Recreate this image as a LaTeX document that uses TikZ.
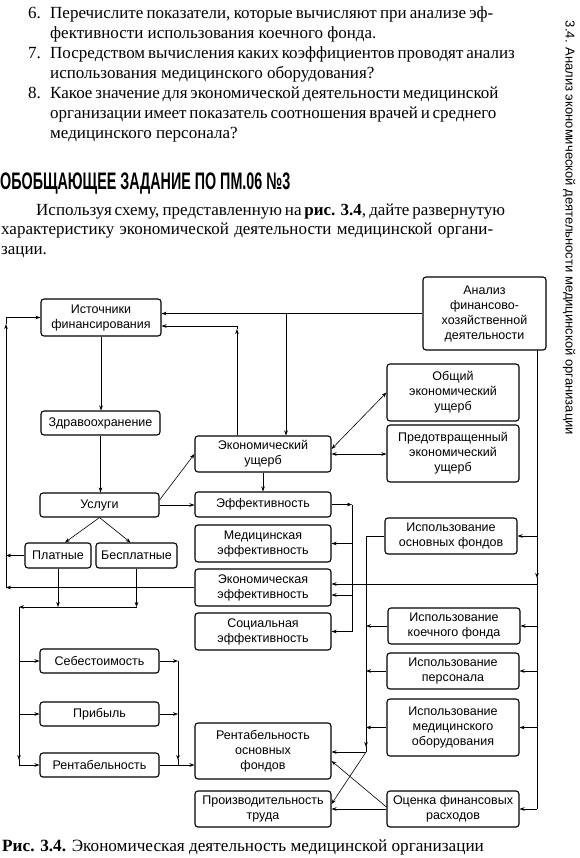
\documentclass[tikz,border=0pt]{standalone}
\usepackage{fontspec}
\usepackage{graphicx}
\setmainfont{Liberation Serif}
\newfontfamily\diagfont{Liberation Sans}
\usetikzlibrary{arrows.meta, calc}

\begin{document}
\begin{tikzpicture}[x=1pt, y=-1pt,
    box/.style={draw, line width=1.1pt, rounded corners=3pt, align=center, inner sep=1pt, font=\diagfont\fontsize{12.5}{15}\selectfont},
    arr/.style={line width=0.6pt, -{Stealth[length=5pt, width=3.6pt]}},
    dbl/.style={line width=0.6pt, {Stealth[length=5pt, width=3.6pt]}-{Stealth[length=5pt, width=3.6pt]}},
    ln/.style={line width=0.6pt},
    txt/.style={anchor=base west, inner sep=0pt, font=\fontsize{17}{20}\selectfont}]

    \useasboundingbox (0,0) rectangle (579,858);

    % Questions
    \node[txt] (n6) at (28,18.5) {6.};
    \node[txt] (q6a) at (50,18.5) {\hbox to 443pt{Перечислите показатели, которые вычисляют при анализе эф-}};
    \node[txt] (q6b) at (50,38.5) {фективности использования коечного фонда.};
    \node[txt] (n7) at (28,58.5) {7.};
    \node[txt] (q7a) at (50,58.5) {\hbox to 443pt{Посредством вычисления каких коэффициентов проводят анализ}};
    \node[txt] (q7b) at (50,78.5) {использования медицинского оборудования?};
    \node[txt] (n8) at (28,98.5) {8.};
    \node[txt] (q8a) at (50,98.5) {\hbox to 443pt{Какое значение для экономической деятельности медицинской}};
    \node[txt] (q8b) at (50,118.5) {\hbox to 443pt{организации имеет показатель соотношения врачей и среднего}};
    \node[txt] (q8c) at (50,138.5) {медицинского персонала?};

    % Heading and task
    \node[anchor=base west, inner sep=0pt] (head) at (0,190) {\resizebox{290pt}{16.7pt}{\diagfont\bfseries ОБОБЩАЮЩЕЕ ЗАДАНИЕ ПО ПМ.06 №3}};
    \node[txt] (t1) at (36,215.5) {\hbox to 457pt{Используя схему, представленную на \textbf{рис. 3.4}, дайте развернутую}};
    \node[txt] (t2) at (1,235) {\hbox to 492pt{характеристику экономической деятельности медицинской органи-}};
    \node[txt] (t3) at (1,254.5) {зации.};

    % Running head
    \node[rotate=-90, inner sep=0pt, font=\diagfont\fontsize{13}{15}\selectfont] (side) at (569,228) {3.4. Анализ экономической деятельности медицинской организации};

    % Left column
    \node[box, minimum width=120pt, minimum height=37pt] (ist) at (101,317.5) {Источники\\финансирования};
    \node[box, minimum width=119pt, minimum height=24pt] (zdr) at (100.5,423) {Здравоохранение};
    \node[box, minimum width=119pt, minimum height=24pt] (usl) at (99.5,505) {Услуги};
    \node[box, minimum width=66pt, minimum height=25pt] (plat) at (58,555.5) {Платные};
    \node[box, minimum width=81pt, minimum height=25pt] (bespl) at (136.5,555.5) {Бесплатные};
    \node[box, minimum width=119pt, minimum height=24pt] (seb) at (99.5,661) {Себестоимость};
    \node[box, minimum width=119pt, minimum height=24pt] (prib) at (99.5,714) {Прибыль};
    \node[box, minimum width=119pt, minimum height=24pt] (rent) at (99.5,765) {Рентабельность};

    % Middle column
    \node[box, minimum width=136pt, minimum height=36pt] (ekush) at (263,454) {Экономический\\ущерб};
    \node[box, minimum width=136pt, minimum height=25pt] (eff) at (263,504.5) {Эффективность};
    \node[box, minimum width=136pt, minimum height=37pt] (medeff) at (263,543.5) {Медицинская\\эффективность};
    \node[box, minimum width=136pt, minimum height=37pt] (ekeff) at (263,587.5) {Экономическая\\эффективность};
    \node[box, minimum width=136pt, minimum height=37pt] (soceff) at (263,631.5) {Социальная\\эффективность};
    \node[box, minimum width=136pt, minimum height=56pt] (rentof) at (263,751) {Рентабельность\\основных\\фондов};
    \node[box, minimum width=136pt, minimum height=36pt] (proizv) at (263,809) {Производительность\\труда};

    % Right column
    \node[box, minimum width=123pt, minimum height=73pt] (analiz) at (484.5,313.5) {Анализ\\финансово-\\хозяйственной\\деятельности};
    \node[box, minimum width=132pt, minimum height=57pt] (obsh) at (453,392.5) {Общий\\экономический\\ущерб};
    \node[box, minimum width=132pt, minimum height=57pt] (predotv) at (453,453.5) {Предотвращенный\\экономический\\ущерб};
    \node[box, minimum width=132pt, minimum height=36pt] (ispof) at (451,536) {Использование\\основных фондов};
    \node[box, minimum width=132pt, minimum height=36pt] (ispkf) at (454,626) {Использование\\коечного фонда};
    \node[box, minimum width=132pt, minimum height=36pt] (isppers) at (453,671) {Использование\\персонала};
    \node[box, minimum width=132pt, minimum height=57pt] (ispmed) at (453,727.5) {Использование\\медицинского\\оборудования};
    \node[box, minimum width=132pt, minimum height=36pt] (ocenka) at (453,809) {Оценка финансовых\\расходов};

    % Caption
    \node[anchor=base west, inner sep=0pt, font=\fontsize{17.2}{20}\selectfont] (cap) at (2,851) {\textbf{Рис. 3.4.} Экономическая деятельность медицинской организации};

    % Top links
    \coordinate (jA) at (286,313.5);
    \coordinate (jB) at (237,326);
    \draw[arr] (analiz.west) -- (analiz.west -| ist.east);
    \draw[arr] (jA) -- (jA |- ekush.north);
    \draw[arr] (ekush.north -| jB) -- ($(jB)+(0,3)$);
    \draw[arr] ($(jB)+(0,3)$) -- (jB) -- (jB -| ist.east);

    % Down the left column
    \draw[arr] (ist.south) -- (ist.south |- zdr.north);
    \draw[arr] (zdr.south) -- (zdr.south |- usl.north);
    \draw[arr] (usl.south) -- ($(plat.north)+(7,0)$);
    \draw[arr] (usl.south) -- ($(bespl.north)+(-6,0)$);
    \draw[arr] ($(usl.east)+(0,-5)$) -- (ekush.west);
    \draw[arr] (usl.east) -- (usl.east -| eff.west);
    \draw[arr] (ekush.south) -- (eff.north);
    \draw[dbl] ($(ekush.east)+(0,-5)$) -- (obsh.west);
    \draw[dbl] (ekush.east) -- (ekush.east -| predotv.west);

    % Outer left loop
    \coordinate (lA) at (6,317.5);
    \coordinate (lB) at (6,587.5);
    \draw[arr] (ekeff.west) -- (lB);
    \draw[arr] (lB) -- (6,324);
    \draw[arr] (6,324) -- (lA) -- (ist.west);
    \draw[arr] (plat.west) -- (plat.west -| lB);

    % Inner left collector
    \coordinate (lC) at (19,607);
    \draw[arr] (plat.south) -- (plat.south |- lC);
    \draw[arr] (bespl.south) -- (bespl.south |- lC);
    \draw[arr] (bespl.south |- lC) -- (lC);
    \draw[arr] (lC) -- (19,760);
    \draw[arr] (19,759) -- (rent.west -| lC) -- (rent.west);
    \draw[arr] (seb.west -| lC) -- (seb.west);
    \draw[arr] (prib.west -| lC) -- (prib.west);

    % Into Рентабельность основных фондов
    \coordinate (rC) at (178,661);
    \draw[arr] (seb.east) -- (rC);
    \draw[arr] (rC) -- (178,760);
    \draw[ln] (178,759) -- (178,765);
    \draw[arr] (prib.east) -- (prib.east -| rC);
    \draw[arr] (rent.east) -- (rent.east -| rentof.west);

    % Effectiveness bracket
    \coordinate (eB) at (352,504.5);
    \draw[arr] (eff.east) -- (eB);
    \draw[ln] (eB) -- (eB |- soceff.east);
    \draw[arr] (medeff.east -| eB) -- (medeff.east);
    \draw[arr] ($(ekeff.east -| eB)+(0,7.5)$) -- ($(ekeff.east)+(0,7.5)$);
    \draw[arr] (soceff.east -| eB) -- (soceff.east);

    % Right trunk
    \coordinate (rT) at (537,350);
    \coordinate (rJ) at (537,584);
    \draw[arr] (rT) -- (537,578);
    \draw[ln] (537,577) -- (537,809);
    \draw[arr] (ispof.east -| rT) -- (ispof.east);
    \draw[arr] (rJ) -- (rJ -| ekeff.east);
    \draw[arr] (ispkf.east -| rT) -- (ispkf.east);
    \draw[arr] (isppers.east -| rT) -- (isppers.east);
    \draw[arr] (ispmed.east -| rT) -- (ispmed.east);
    \draw[arr] (ocenka.east -| rT) -- (ocenka.east);

    % Inner right trunk
    \coordinate (iT) at (366,536);
    \coordinate (iB) at (366,752);
    \draw[ln] (ispof.west) -- (iT);
    \draw[arr] (iT) -- (366,747);
    \draw[ln] (366,746) -- (iB);
    \draw[arr] (ispkf.west) -- (ispkf.west -| iT);
    \draw[arr] (isppers.west) -- (isppers.west -| iT);
    \draw[arr] (ispmed.west) -- (ispmed.west -| iT);
    \draw[arr] (iB) -- (iB -| rentof.east);
    \draw[arr] (iB) -- ($(proizv.east)+(0,-5)$);
    \draw[arr] (ocenka.west) -- (ocenka.west -| proizv.east);
    \draw[arr] ($(ocenka.west)+(0,-2)$) -- ($(rentof.east)+(0,10)$);
\end{tikzpicture}
\end{document}
